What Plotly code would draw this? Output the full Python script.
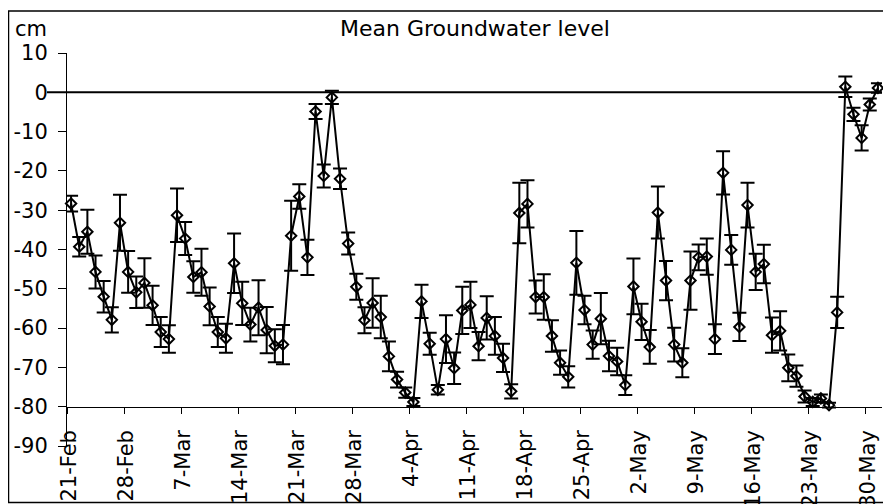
import pandas as pd
import plotly.graph_objects as go

# ---- data ----
start_date = "2003-02-21"
levels = [
    -28.3, -39.3, -35.5, -45.7, -52.0, -57.9, -33.2, -45.7, -50.9, -48.5,
    -54.2, -61.0, -62.8, -31.3, -37.2, -47.0, -45.8, -54.5, -61.0, -62.6,
    -43.5, -53.7, -59.1, -54.8, -60.5, -64.5, -64.2, -36.5, -26.5, -42.0,
    -4.9, -21.3, -1.3, -22.0, -38.5, -49.5, -58.0, -53.6, -57.2, -67.2,
    -73.1, -76.4, -78.8, -53.2, -64.0, -75.7, -62.8, -70.2, -55.5, -54.1,
    -64.6, -57.4, -62.0, -67.6, -76.1, -30.7, -28.4, -52.1, -52.1, -62.0,
    -68.8, -72.4, -43.4, -55.4, -64.2, -57.6, -67.1, -68.5, -74.5, -49.4,
    -58.4, -64.8, -30.6, -47.9, -64.2, -68.8, -47.9, -42.0, -41.8, -62.8,
    -20.5, -40.1, -59.7, -28.7, -45.7, -43.7, -61.8, -60.7, -70.1, -72.2,
    -77.4, -78.8, -77.9, -79.6, -56.0, 1.4, -5.6, -11.6, -3.1, 1.1,
]
errors = [
    2.0, 2.5, 5.6, 4.2, 4.0, 3.2, 7.1, 5.3, 4.0, 6.3,
    5.0, 3.8, 3.5, 6.8, 4.2, 4.0, 6.0, 4.8, 3.8, 3.7,
    7.6, 5.5, 4.3, 7.0, 5.9, 4.2, 5.0, 8.9, 3.1, 4.5,
    1.9, 2.9, 1.7, 2.6, 2.8, 3.3, 3.3, 6.3, 5.4, 3.8,
    2.0, 1.3, 1.0, 4.2, 2.8, 1.2, 6.1, 4.0, 6.0, 5.9,
    3.6, 5.5, 4.8, 3.6, 1.8, 7.7, 6.0, 4.2, 5.8, 4.0,
    3.1, 2.7, 8.1, 3.6, 3.6, 6.5, 3.9, 3.5, 2.5, 7.1,
    4.6, 4.3, 6.6, 5.0, 4.3, 3.7, 7.4, 3.3, 4.6, 3.8,
    5.5, 3.8, 3.6, 5.7, 4.6, 4.9, 4.5, 5.0, 3.4, 2.7,
    1.5, 1.0, 1.0, 0.6, 4.0, 2.6, 1.7, 3.2, 1.5, 1.2,
]
y_ticks = [-90, -80, -70, -60, -50, -40, -30, -20, -10, 0, 10]
y_tick_labels = [str(v) for v in y_ticks]
title_text = "Mean Groundwater level"
unit_text = "cm"

# ---- layout geometry (screen pixels; page body adds an 8px offset) ----
SCREEN_W, SCREEN_H = 891, 504
OFF = 8
W, H = SCREEN_W - OFF, SCREEN_H - OFF
PLOT_L, PLOT_R, PLOT_T, PLOT_B = 67, 882, 53, 446   # screen px
ML, MR, MT, MB = PLOT_L - OFF, SCREEN_W - PLOT_R, PLOT_T - OFF, SCREEN_H - PLOT_B
PW, PH = W - ML - MR, H - MT - MB
Y_MIN, Y_MAX = -90, 10
X_AXIS_AT = -80
FONT = "DejaVu Sans"


def px_to_paper_x(px):
    return (px - PLOT_L) / PW


def px_to_paper_y(py):
    return (PLOT_B - py) / PH


dates = pd.date_range(start_date, periods=len(levels), freq="D")
x_pts = dates + pd.Timedelta(hours=12)  # points sit between the day ticks
x_range = [dates[0], dates[-1] + pd.Timedelta(days=1)]

fig = go.Figure()
fig.add_trace(go.Scatter(
    x=x_pts, y=levels, mode="lines+markers",
    line=dict(color="black", width=2),
    marker=dict(symbol="diamond-open", size=8, color="black",
                line=dict(color="black", width=2)),
    error_y=dict(type="data", array=errors, visible=True,
                 color="black", thickness=2, width=7),
    showlegend=False,
    cliponaxis=False,
))

fig.update_layout(
    template="none",
    width=W, height=H,
    margin=dict(l=ML, r=MR, t=MT, b=MB, pad=0),
    paper_bgcolor="white", plot_bgcolor="white",
    font=dict(family=FONT, color="black", size=21),
    showlegend=False,
    xaxis=dict(
        type="date", range=x_range, automargin=False,
        tick0=start_date, dtick=7 * 86400000, tickformat="%-d-%b",
        tickangle=-90, ticks="outside", ticklen=6, tickwidth=1,
        tickcolor="black", showline=True, linecolor="black", linewidth=1,
        anchor="free", position=(X_AXIS_AT - Y_MIN) / (Y_MAX - Y_MIN),
        showgrid=False, zeroline=False,
        ticklabelstandoff=8, ticklabelshift=2,
        tickfont=dict(family=FONT, size=21, color="black"),
    ),
    yaxis=dict(
        range=[Y_MIN, Y_MAX], tickvals=y_ticks, ticktext=y_tick_labels,
        automargin=False,
        ticks="outside", ticklen=8, tickwidth=1, tickcolor="black",
        showline=True, linecolor="black", linewidth=1,
        showgrid=False, zeroline=False, ticklabelstandoff=6,
        tickfont=dict(family=FONT, size=21, color="black"),
    ),
    shapes=[
        # zero reference line
        dict(type="line", xref="paper", yref="y",
             x0=px_to_paper_x(47), x1=1, y0=0, y1=0,
             line=dict(color="black", width=2)),
        # outer chart border
        dict(type="rect", xref="paper", yref="paper",
             x0=px_to_paper_x(8.5), x1=px_to_paper_x(893),
             y0=px_to_paper_y(502.5), y1=px_to_paper_y(11),
             line=dict(color="black", width=1.5), layer="below"),
    ],
    annotations=[
        dict(text=title_text, xref="paper", yref="paper",
             x=0.5, y=px_to_paper_y(29), xanchor="center", yanchor="middle",
             showarrow=False, font=dict(family=FONT, size=22, color="black")),
        dict(text=unit_text, xref="paper", yref="paper",
             x=px_to_paper_x(13), y=px_to_paper_y(29), xanchor="left",
             yanchor="middle", showarrow=False,
             font=dict(family=FONT, size=21, color="black")),
    ],
)

fig.write_html("out.html")
